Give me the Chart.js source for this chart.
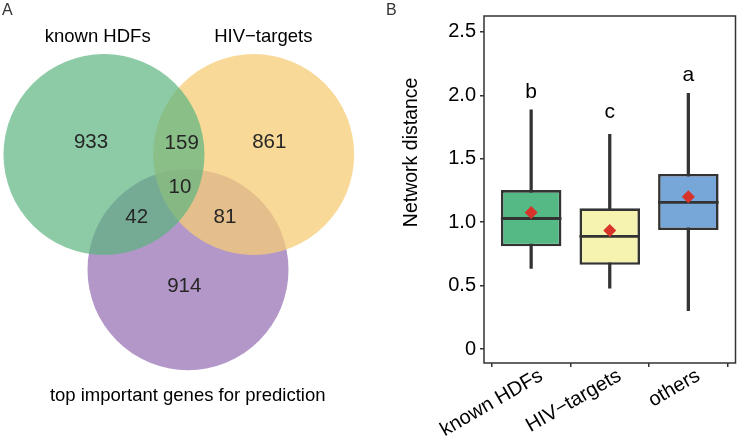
<!DOCTYPE html>
<html>
<head>
<meta charset="utf-8">
<script src="https://cdn.jsdelivr.net/npm/chart.js@4.4.0/dist/chart.umd.min.js"></script>
<style>
html, body { margin: 0; padding: 0; background: #fff; }
#wrap { position: relative; width: 742px; height: 436px; }
#venn { position: absolute; left: 0; top: 0; }
#box { position: absolute; left: 370px; top: 0; }
</style>
</head>
<body>
<div id="wrap">
  <canvas id="venn" width="370" height="436"></canvas>
  <canvas id="box" width="372" height="436"></canvas>
</div>
<script>
// ---- panel A data (venn) ----
var setNames = ['known HDFs', 'HIV\u2212targets', 'top important genes for prediction'];
var regionNames = ['HDF only', 'HDF+HIV', 'HIV only', 'all three', 'HDF+top', 'HIV+top', 'top only'];
var regionCounts = [933, 159, 861, 10, 42, 81, 914];

// ---- panel B data (boxplot) ----
var groups = ['known HDFs', 'HIV\u2212targets', 'others'];
var whiskerLow = [0.636, 0.48, 0.302];
var q1 = [0.81, 0.664, 0.9375];
var medians = [1.029, 0.888, 1.156];
var q3 = [1.253, 1.109, 1.38];
var whiskerHigh = [1.886, 1.693, 2.016];
var means = [1.076, 0.935, 1.20];
var sigLetters = ['b', 'c', 'a'];
var yTicks = [0, 0.5, 1.0, 1.5, 2.0, 2.5];

var FONT = '"Liberation Sans", Arial, Helvetica, sans-serif';
Chart.defaults.font.family = FONT;

// venn layout, in circle-radius units
var circleCenters = [[0, 0], [1.497, 0], [0.84, -1.152]];
var circleR = 1.005;
var circleColors = ['rgba(91,181,128,0.7)', 'rgba(246,204,118,0.75)', 'rgba(128,82,165,0.6)'];
var countPos = [[-0.13, 0.125], [0.777, 0.115], [1.653, 0.125], [0.76, -0.332], [0.327, -0.632], [1.21, -0.632], [0.803, -1.322]];
var namePos = [[-0.063, 1.172], [1.593, 1.172], [0.837, -2.415]];

function radiusPx(c) {
	var s = c.chart.scales.x;
	return s.getPixelForValue(circleR) - s.getPixelForValue(0);
}

// dataset 0 ends up on top: green, then orange, purple at the bottom
var vennDatasets = [];
[0, 1, 2].forEach(function(i) {
	vennDatasets.push({
		label: setNames[i],
		data: [{x: circleCenters[i][0], y: circleCenters[i][1]}],
		backgroundColor: circleColors[i],
		borderWidth: 0,
		pointRadius: radiusPx,
		pointHoverRadius: radiusPx
	});
});

var vennText = {
	id: 'vennText',
	afterDatasetsDraw: function(chart) {
		var ctx = chart.ctx, x = chart.scales.x, y = chart.scales.y;
		ctx.save();
		ctx.textAlign = 'center';
		ctx.textBaseline = 'middle';
		ctx.font = '20.5px ' + FONT;
		ctx.fillStyle = '#262626';
		regionCounts.forEach(function(n, i) {
			ctx.fillText(String(n), x.getPixelForValue(countPos[i][0]), y.getPixelForValue(countPos[i][1]));
		});
		ctx.font = '18.5px ' + FONT;
		ctx.fillStyle = '#000';
		setNames.forEach(function(s, i) {
			ctx.fillText(s, x.getPixelForValue(namePos[i][0]), y.getPixelForValue(namePos[i][1]));
		});
		ctx.textAlign = 'left';
		ctx.textBaseline = 'top';
		ctx.font = '16px ' + FONT;
		ctx.fillStyle = '#333';
		ctx.fillText('A', 2, 3);
		ctx.restore();
	}
};

new Chart(document.getElementById('venn'), {
	type: 'scatter',
	data: { datasets: vennDatasets },
	options: {
		responsive: false,
		animation: false,
		events: [],
		layout: { padding: 0 },
		plugins: { legend: { display: false }, tooltip: { enabled: false } },
		scales: {
			x: { type: 'linear', min: -1.04, max: 2.66, display: false },
			y: { type: 'linear', min: -2.815, max: 1.545, display: false }
		}
	},
	plugins: [vennText]
});

// ---- boxplot ----
var boxColors = ['#55b985', '#f6f3b0', '#77a6d9'];
var DARK = '#333333';

function boxHalfWidth(c) {
	var s = c.chart.scales.x;
	return (s.getPixelForValue(1) - s.getPixelForValue(0)) * 0.77 / 2;
}

var boxText = {
	id: 'boxText',
	afterDraw: function(chart) {
		var ctx = chart.ctx, a = chart.chartArea, x = chart.scales.x, y = chart.scales.y;
		ctx.save();
		ctx.strokeStyle = DARK;
		ctx.lineWidth = 1.5;
		ctx.strokeRect(a.left, a.top, a.right - a.left, a.bottom - a.top);

		ctx.fillStyle = '#000';
		ctx.font = '21px ' + FONT;
		ctx.textAlign = 'center';
		ctx.textBaseline = 'alphabetic';
		sigLetters.forEach(function(l, i) {
			var off = (l === 'c') ? 0.13 : 0.096;
			ctx.fillText(l, x.getPixelForValue(i), y.getPixelForValue(whiskerHigh[i] + off));
		});

		ctx.save();
		ctx.translate(a.left - 72, a.top + 0.393 * (a.bottom - a.top));
		ctx.rotate(-Math.PI / 2);
		ctx.textBaseline = 'middle';
		ctx.font = '19.5px ' + FONT;
		ctx.fillText('Network distance', 0, 0);
		ctx.restore();

		ctx.textAlign = 'left';
		ctx.textBaseline = 'top';
		ctx.font = '16px ' + FONT;
		ctx.fillStyle = '#333';
		ctx.fillText('B', 16, 3);
		ctx.restore();
	}
};

new Chart(document.getElementById('box'), {
	type: 'bar',
	data: {
		datasets: [
			{
				label: 'whiskers',
				data: groups.map(function(g, i) { return {x: i, y: [whiskerLow[i], whiskerHigh[i]]}; }),
				backgroundColor: DARK,
				barThickness: 2.6,
				grouped: false,
				order: 3
			},
			{
				label: 'boxes',
				data: groups.map(function(g, i) { return {x: i, y: [q1[i], q3[i]]}; }),
				backgroundColor: boxColors,
				borderColor: DARK,
				borderWidth: 2.6,
				borderSkipped: false,
				categoryPercentage: 1,
				barPercentage: 0.77,
				grouped: false,
				order: 2
			},
			{
				type: 'line',
				label: 'median',
				data: groups.map(function(g, i) { return {x: i, y: medians[i]}; }),
				showLine: false,
				pointStyle: 'line',
				pointRadius: boxHalfWidth,
				borderColor: DARK,
				pointBorderWidth: 2.8,
				order: 1
			},
			{
				type: 'line',
				label: 'mean',
				data: groups.map(function(g, i) { return {x: i, y: means[i]}; }),
				showLine: false,
				pointStyle: 'rectRot',
				pointRadius: 6.5,
				pointBackgroundColor: '#d8332a',
				pointBorderWidth: 0,
				order: 0
			}
		]
	},
	options: {
		responsive: false,
		animation: false,
		events: [],
		layout: { padding: { top: 13, right: 3, left: 0, bottom: 0 } },
		plugins: { legend: { display: false }, tooltip: { enabled: false } },
		scales: {
			x: {
				type: 'linear',
				min: -0.6,
				max: 2.6,
				offset: false,
				afterBuildTicks: function(s) { s.ticks = groups.map(function(g, i) { return {value: i}; }); },
				afterFit: function(s) { s.height = 73; },
				ticks: {
					autoSkip: false,
					minRotation: 30,
					maxRotation: 30,
					padding: -3,
					labelOffset: 10,
					color: '#000',
					font: { size: 20 },
					callback: function(v) { return groups[v]; }
				},
				grid: { display: true, drawOnChartArea: false, drawTicks: true, tickLength: 4, color: DARK, lineWidth: 1.5 },
				border: { display: false }
			},
			y: {
				min: -0.11,
				max: 2.625,
				afterBuildTicks: function(s) { s.ticks = yTicks.map(function(v) { return {value: v}; }); },
				afterFit: function(s) { s.width = 114; },
				ticks: {
					padding: 4,
					color: '#000',
					font: { size: 20 },
					callback: function(v) { return v === 0 ? '0' : v.toFixed(1); }
				},
				grid: { display: true, drawOnChartArea: false, drawTicks: true, tickLength: 4, color: DARK, lineWidth: 1.5 },
				border: { display: false }
			}
		}
	},
	plugins: [boxText]
});
</script>
</body>
</html>
